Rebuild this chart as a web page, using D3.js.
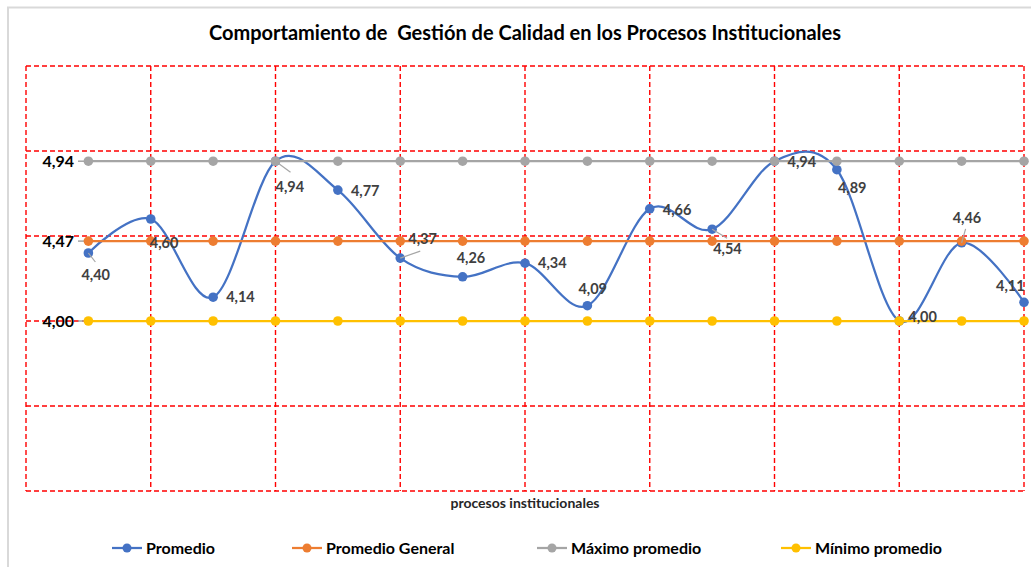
<!DOCTYPE html>
<html><head><meta charset="utf-8">
<script src="https://cdn.jsdelivr.net/npm/d3@7"></script>
<style>
html,body{margin:0;padding:0;background:#fff;}
svg{display:block;font-family:Lato,"Open Sans",sans-serif;}
text{white-space:pre;}
</style></head>
<body><svg id="chart" width="1031" height="567"></svg>
<script>
const title = "Comportamiento de  Gestión de Calidad en los Procesos Institucionales";
const xTitle = "procesos institucionales";
const categories = ["1","2","3","4","5","6","7","8","9","10","11","12","13","14","15","16"];
const promedio = [4.40,4.60,4.14,4.94,4.77,4.37,4.26,4.34,4.09,4.66,4.54,4.94,4.89,4.00,4.46,4.11];
const promedioGeneral = 4.47;
const maximoPromedio = 4.94;
const minimoPromedio = 4.00;
const yTickValues = [4.00, 4.47, 4.94];
const yGridValues = [3.0, 3.5, 4.0, 4.5, 5.0, 5.5];
const seriesNames = ["Promedio","Promedio General","Máximo promedio","Mínimo promedio"];
const colors = ["#4472C4","#ED7D31","#A5A5A5","#FFC000"];
// label placement offsets (px) from each point: left edge, vertical centre
const labelOffsets = [[-7,22],[-1,24],[13,0],[0,26],[13,1],[8,-19],[-6,-19],[13,0],[-9,-17],[13,1],[1,20],[13,1],[1,18],[9,-4],[-9,-25],[-28,-16]];
const leaders = [[0,7,9],[3,15,11],[5,20,-7],[10,15,9],[14,4,-14]];

(function(){
const fmt = v => d3.format(".2f")(v).replace(".", ",");
const svg = d3.select("#chart");
const W = 1031, H = 567;
const pLeft = 26, pRight = 1024, pTop = 66, pBottom = 491;

// outer chart border
svg.append("rect").attr("x",8).attr("y",7.5).attr("width",W+10).attr("height",H+10)
  .attr("fill","#fff").attr("stroke","#d9d9d9").attr("stroke-width",2);

const x = d3.scaleLinear().domain([0, categories.length]).range([pLeft, pRight]);
const y = d3.scaleLinear().domain([3, 5.5]).range([pBottom, pTop]);
const xi = i => x(i + 1);

// title
svg.append("text").attr("x", 525).attr("y", 40).attr("text-anchor","middle")
  .attr("font-size", 20).attr("font-weight","bold").attr("fill","#000").text(title);

// grid
const grid = svg.append("g").attr("stroke","#FF0000").attr("stroke-width",1.4)
  .attr("stroke-dasharray","5,3").attr("fill","none");
yGridValues.forEach(v => grid.append("line").attr("x1",pLeft).attr("x2",pRight).attr("y1",y(v)).attr("y2",y(v)));
const vgrid = d3.range(0, categories.length + 1, 2);
vgrid.forEach(k => grid.append("line").attr("x1",x(k)).attr("x2",x(k)).attr("y1",pTop).attr("y2",pBottom));

// y tick labels
const yAxis = svg.append("g");
yTickValues.forEach(v => {
  yAxis.append("line").attr("x1",78).attr("x2",xi(0)).attr("y1",y(v)).attr("y2",y(v))
    .attr("stroke","#A5A5A5").attr("stroke-width",1.5);
  yAxis.append("text").attr("x",74).attr("y",y(v)).attr("dy","0.35em").attr("text-anchor","end")
    .attr("font-size",16).attr("font-weight","bold").attr("fill","#000").text(fmt(v));
});

// series
const idx = d3.range(categories.length);
const line = d3.line().x(d => xi(d[0])).y(d => y(d[1]));
const smooth = d3.line().x(d => xi(d[0])).y(d => y(d[1])).curve(d3.curveCatmullRom.alpha(0));
const allSeries = [
  {vals: idx.map(i => [i, promedio[i]]), c: colors[0], curve: true},
  {vals: idx.map(i => [i, promedioGeneral]), c: colors[1]},
  {vals: idx.map(i => [i, maximoPromedio]), c: colors[2]},
  {vals: idx.map(i => [i, minimoPromedio]), c: colors[3]}
];
allSeries.forEach(s => {
  const g = svg.append("g");
  g.append("path").attr("d", (s.curve ? smooth : line)(s.vals)).attr("fill","none")
    .attr("stroke", s.c).attr("stroke-width", 2.25);
  g.selectAll("circle").data(s.vals).join("circle")
    .attr("cx", d => xi(d[0])).attr("cy", d => y(d[1])).attr("r", 4.8).attr("fill", s.c);
});

// leader lines
leaders.forEach(([i, dx, dy]) => {
  svg.append("line").attr("x1", xi(i)).attr("y1", y(promedio[i]))
    .attr("x2", xi(i) + dx).attr("y2", y(promedio[i]) + dy)
    .attr("stroke","#A6A6A6").attr("stroke-width",1.2);
});

// data labels
promedio.forEach((v, i) => {
  svg.append("text").attr("x", xi(i) + labelOffsets[i][0]).attr("y", y(v) + labelOffsets[i][1])
    .attr("dy","0.35em").attr("font-size",14.5).attr("font-weight","bold").attr("fill","#404040")
    .text(fmt(v));
});

// x title
svg.append("text").attr("x",525).attr("y",508).attr("text-anchor","middle")
  .attr("font-size",14).attr("font-weight","bold").attr("fill","#262626").text(xTitle);

// legend
const legendX = [112, 292, 537, 781];
seriesNames.forEach((n, k) => {
  const g = svg.append("g").attr("transform", `translate(${legendX[k]},548)`);
  g.append("line").attr("x1",0).attr("x2",30).attr("stroke",colors[k]).attr("stroke-width",2.25);
  g.append("circle").attr("cx",15).attr("r",4.5).attr("fill",colors[k]);
  g.append("text").attr("x",34).attr("dy","0.35em").attr("font-size",16).attr("font-weight","bold")
    .attr("fill","#000").text(n);
});
})();
</script></body></html>
